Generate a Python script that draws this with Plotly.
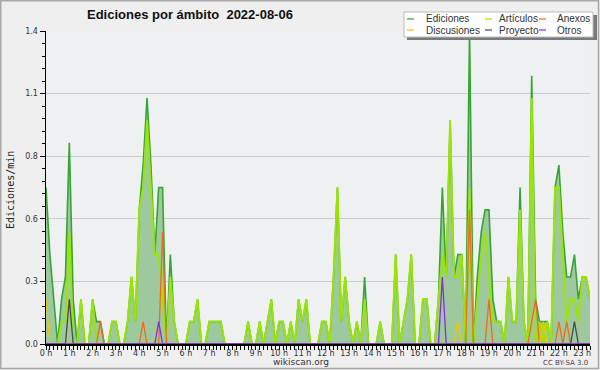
import plotly.graph_objects as go

# 10-minute slots from 00:00 to 23:20 (index i -> hour i/6)
ediciones = [0.7,0.4,0.2,0,0.2,0.3,0.9,0.2,0,0.2,
             0,0,0.2,0.1,0.1,0,0,0.1,0.1,0,
             0,0.1,0.3,0.1,0.6,0.8,1.1,0.8,0.4,0.7,
             0.7,0,0.4,0.1,0,0,0,0.1,0.1,0.2,
             0,0,0.1,0.1,0.1,0.1,0,0,0,0,
             0,0,0.1,0,0,0.1,0,0.1,0.2,0,
             0.1,0.1,0,0.1,0,0.2,0.1,0.2,0,0,
             0,0.1,0.1,0,0.3,0.7,0.1,0.3,0.1,0,
             0.1,0,0.3,0,0,0,0.1,0,0,0,
             0.4,0,0.1,0.2,0.4,0,0,0.2,0.2,0,
             0,0.2,0.7,0.3,1.0,0.3,0.4,0.4,0,1.4,
             0,0.3,0.5,0.6,0.6,0.2,0.1,0.1,0,0.3,
             0.1,0.1,0.7,0.1,0,1.2,0.2,0.1,0.1,0.1,
             0,0.7,0.8,0.5,0.3,0.3,0.4,0.2,0.3,0.3,
             0.2]
articulos = [0,0,0,0,0.1,0.1,0.5,0,0,0.2,
             0,0,0.2,0,0,0,0,0.1,0.1,0,
             0,0.1,0.3,0.1,0.6,0.7,1.0,0.7,0.4,0.4,
             0.2,0,0.3,0.1,0,0,0,0.1,0.1,0.2,
             0,0,0.1,0.1,0.1,0.1,0,0,0,0,
             0,0,0.1,0,0,0.1,0,0.1,0.2,0,
             0.1,0.1,0,0.1,0,0.2,0.1,0.2,0,0,
             0,0.1,0.1,0,0.3,0.7,0.1,0.3,0.1,0,
             0.1,0,0.2,0,0,0,0.1,0,0,0,
             0.4,0,0.1,0.2,0.4,0,0,0.2,0.2,0,
             0,0.2,0.4,0.3,1.0,0.3,0.3,0.4,0,0.7,
             0,0.2,0.4,0.5,0.3,0.1,0.1,0.1,0,0.3,
             0.1,0.1,0.6,0.1,0,1.1,0,0.1,0,0.1,
             0,0.7,0.7,0.4,0.1,0.2,0.2,0.1,0.3,0.3,
             0.2]
anexos_idx = [14, 25, 30, 109, 114, 125, 126, 132, 134]
anexos_val = [0.1, 0.1, 0.5, 0.6, 0.2, 0.1, 0.2, 0.1, 0.1]
discusiones_idx = [0, 106, 128]
discusiones_val = [0.2, 0.1, 0.1]
proyecto_idx = [6, 136]
proyecto_val = [0.2, 0.1]
otros_idx = [29, 102]
otros_val = [0.1, 0.3]

hour_labels = [f"{h} h" for h in range(24)]
y_tick_vals = [0, 0.28, 0.56, 0.84, 1.12, 1.4]
y_tick_text = ["0.0", "0.3", "0.6", "0.8", "1.1", "1.4"]

N = len(ediciones)
x = [i / 6 for i in range(N)]


def sparse(idx, val):
    s = [0.0] * N
    for i, v in zip(idx, val):
        s[i] = v
    return s


anexos = sparse(anexos_idx, anexos_val)
discusiones = sparse(discusiones_idx, discusiones_val)
proyecto = sparse(proyecto_idx, proyecto_val)
otros = sparse(otros_idx, otros_val)

C_ED = "#35a535"
C_ART = "#9be600"
C_ANX = "#f26a1b"
C_DIS = "#f5c400"
C_PRO = "#4a4a4a"
C_OTR = "#8a2be2"

fig = go.Figure()
fig.add_trace(go.Scatter(x=x, y=ediciones, mode="lines", line=dict(color=C_ED, width=1.6),
                         fill="tozeroy", fillcolor="rgb(158,201,158)", name="Ediciones"))
fig.add_trace(go.Scatter(x=x, y=articulos, mode="lines", line=dict(color=C_ART, width=1.9), name="Artículos"))
fig.add_trace(go.Scatter(x=x, y=anexos, mode="lines", line=dict(color=C_ANX, width=1.3), name="Anexos"))
fig.add_trace(go.Scatter(x=x, y=discusiones, mode="lines", line=dict(color=C_DIS, width=1.3), name="Discusiones"))
fig.add_trace(go.Scatter(x=x, y=proyecto, mode="lines", line=dict(color=C_PRO, width=1.3), name="Proyecto"))
fig.add_trace(go.Scatter(x=x, y=otros, mode="lines", line=dict(color=C_OTR, width=1.3), name="Otros"))

Lm, Rm, Tm, Bm = 46, 10, 31, 26
Wf, Hf = 600, 370
W = Wf - Lm - Rm
H = Hf - Tm - Bm


def px(p):
    return (p - Lm) / W


def py(p):
    return (Hf - Bm - p) / H


fig.update_layout(
    width=Wf, height=Hf, margin=dict(l=Lm, r=Rm, t=Tm, b=Bm, autoexpand=False),
    paper_bgcolor="#efefef", plot_bgcolor="#eef0f1",
    showlegend=False,
    font=dict(family="Liberation Sans", size=9, color="#333"),
)
fig.update_xaxes(
    range=[0, (N - 1) / 6], tickmode="array", tickvals=list(range(24)), ticktext=hour_labels,
    ticks="outside", ticklen=4, tickcolor="black", tickwidth=1, ticklabelstandoff=-3,
    showline=True, linecolor="black", linewidth=1.5, showgrid=False, zeroline=False,
    tickfont=dict(family="DejaVu Sans", size=8, color="#333"),
    minor=dict(tick0=0, dtick=1 / 6, ticks="outside", ticklen=4, tickcolor="black", showgrid=False),
)
fig.update_yaxes(
    range=[0, 1.4], tickmode="array", tickvals=y_tick_vals, ticktext=y_tick_text,
    ticks="outside", ticklen=5, tickcolor="black",
    showline=True, linecolor="black", linewidth=1.5,
    showgrid=True, gridcolor="#cccccc", gridwidth=1, zeroline=False,
    tickfont=dict(family="DejaVu Sans", size=8, color="#333"),
    minor=dict(tick0=0, dtick=0.056, ticks="outside", ticklen=3, tickcolor="black", showgrid=False),
)

shapes = []
ann = []
# outer frame
shapes.append(dict(type="rect", xref="paper", yref="paper", x0=px(0.75), x1=px(598.5), y0=py(368.5), y1=py(0.75),
                   line=dict(color="#a8a8a8", width=1.5), fillcolor="rgba(0,0,0,0)", layer="above"))
# legend box with shadow
shapes.append(dict(type="rect", xref="paper", yref="paper", x0=px(407), x1=px(597), y0=py(40), y1=py(15),
                   line=dict(width=0), fillcolor="#7a7a7a", layer="above"))
shapes.append(dict(type="rect", xref="paper", yref="paper", x0=px(404), x1=px(593), y0=py(37), y1=py(12),
                   line=dict(color="#bbbbbb", width=1), fillcolor="#ffffff", layer="above"))
legend_items = [
    ("Ediciones", C_ED, 407, 424, 19), ("Artículos", C_ART, 485, 497, 19), ("Anexos", C_ANX, 539, 555, 19),
    ("Discusiones", C_DIS, 407, 424, 30), ("Proyecto", C_PRO, 485, 497, 30), ("Otros", C_OTR, 539, 555, 30),
]
for name, col, lx, tx, ly in legend_items:
    shapes.append(dict(type="line", xref="paper", yref="paper", x0=px(lx), x1=px(lx + 7), y0=py(ly), y1=py(ly),
                       line=dict(color=col, width=1.2), layer="above"))
    ann.append(dict(text=name, xref="paper", yref="paper", x=px(tx), y=py(ly), xanchor="left", yanchor="middle",
                    showarrow=False, font=dict(family="Liberation Sans", size=10, color="#333")))

ann.append(dict(text="<b>Ediciones por ámbito  2022-08-06</b>", xref="paper", yref="paper",
                x=px(85), y=py(14), xanchor="left", yanchor="middle", showarrow=False,
                font=dict(family="Liberation Sans", size=13, color="#111")))
ann.append(dict(text="Ediciones/min", xref="paper", yref="paper", x=px(10), y=py(190), xanchor="center",
                yanchor="middle", textangle=-90, showarrow=False,
                font=dict(family="DejaVu Sans Mono", size=10, color="#222")))
ann.append(dict(text="wikiscan.org", xref="paper", yref="paper", x=px(301), y=py(362), xanchor="center",
                yanchor="middle", showarrow=False, font=dict(family="DejaVu Sans", size=9, color="#333")))
ann.append(dict(text="CC BY-SA 3.0", xref="paper", yref="paper", x=px(590), y=py(363), xanchor="right",
                yanchor="middle", showarrow=False, font=dict(family="DejaVu Sans", size=7, color="#444")))

fig.update_layout(shapes=shapes, annotations=ann)
fig.write_html("out.html", config={"displayModeBar": False, "staticPlot": True},
               post_script="document.body.style.margin='0';document.body.style.overflow='hidden';")
